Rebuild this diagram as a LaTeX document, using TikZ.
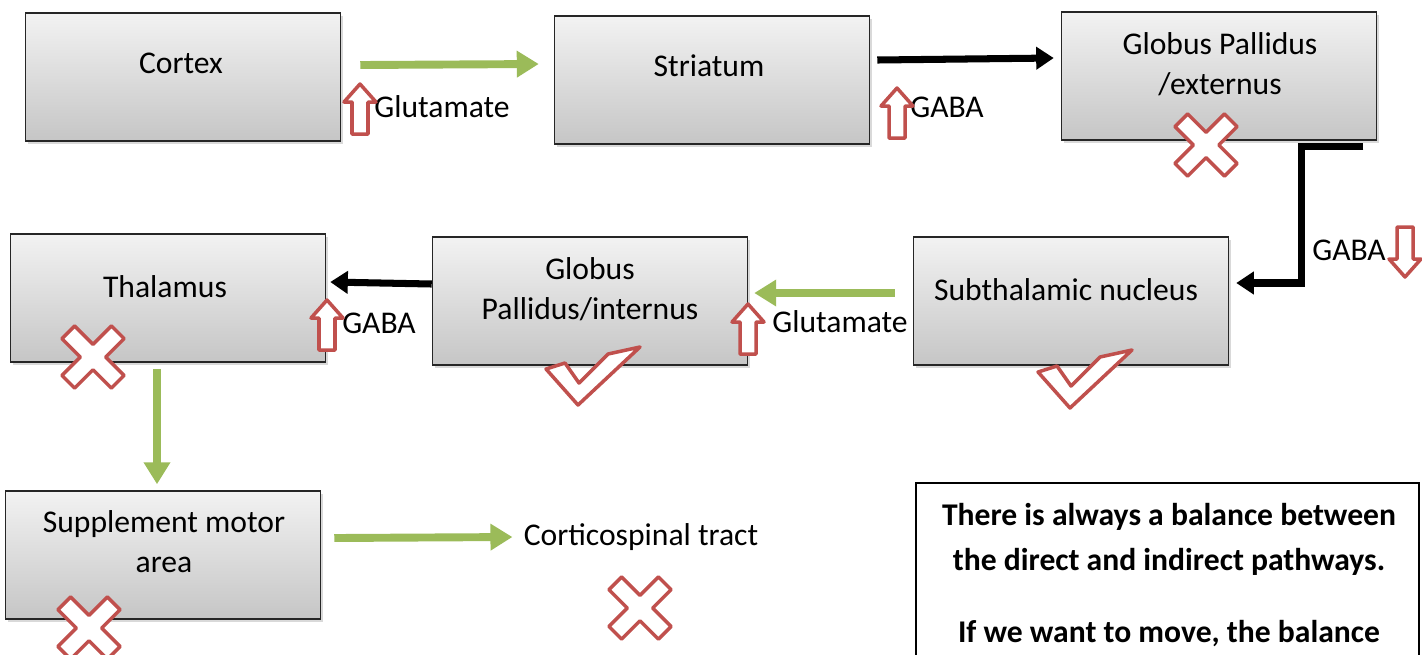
\documentclass[tikz,border=0pt]{standalone}
\usepackage{fontspec}
\setmainfont{Carlito}
\usetikzlibrary{arrows.meta,positioning,shadows}
\definecolor{offgreen}{HTML}{9BBB59}
\definecolor{offred}{HTML}{C0504D}

\begin{document}
\begin{tikzpicture}[
    x=0.02cm, y=-0.02cm,
    box/.style={draw=black!85, line width=0.9pt, top color=gray!10, bottom color=gray!45,
        minimum width=6.3cm, minimum height=2.56cm,
        drop shadow={shadow xshift=1.5pt, shadow yshift=-1.5pt, opacity=0.3}},
    boxtext/.style={align=center, inner sep=0pt, font=\fontsize{18}{22.7}\selectfont},
    lbl/.style={inner sep=0pt, font=\fontsize{18}{22.7}\selectfont},
    glu/.style={draw=offgreen, line width=4.5pt, -{Triangle[length=12.5pt,width=14.5pt]}},
    gaba/.style={draw=black, line width=4pt, -{Triangle[length=10pt,width=12.5pt]}},
    redline/.style={draw=offred, fill=white, line width=2pt, line join=round},
    pics/hollowup/.style={code={
        \draw[redline] (-8,25) -- (-8,-7) -- (-16,-7) -- (0,-25) -- (16,-7) -- (8,-7) -- (8,25) -- cycle;}},
    pics/redcross/.style={code={
        \draw[redline, rotate=45] (9,35) -- (9,9) -- (35,9) -- (35,-9) -- (9,-9) -- (9,-35)
            -- (-9,-35) -- (-9,-9) -- (-35,-9) -- (-35,9) -- (-9,9) -- (-9,35) -- cycle;}},
    pics/redcheck/.style={code={
        \draw[redline] (0,0) -- (-32,-36) -- (-13,-42) -- (1,-22) -- (30,-51) -- (62,-58) -- cycle;}}
]
    \clip (0,0) rectangle (1422,654);

    % boxes
    \node[box] (cortex) at (183,77) {};
    \node[box] (striatum) at (712,80) {};
    \node[box] (gpe) at (1219,76) {};
    \node[box] (stn) at (1071,301) {};
    \node[box] (gpi) at (590,301) {};
    \node[box] (thal) at (168,298) {};
    \node[box] (sma) at (163,555) {};

    \node[boxtext] (cortex-t) at (181,63) {Cortex};
    \node[boxtext] (striatum-t) at (709,66) {Striatum};
    \node[boxtext] (gpe-t) at (1220,64) {Globus Pallidus\\/externus};
    \node[boxtext] (stn-t) at (1066,290) {Subthalamic nucleus};
    \node[boxtext] (gpi-t) at (590,289) {Globus\\Pallidus/internus};
    \node[boxtext] (thal-t) at (165,287) {Thalamus};
    \node[boxtext] (sma-t) at (164,542) {Supplement motor\\area};
    \node[lbl] (tract) at (641,537) {Corticospinal tract};

    % connectors
    \draw[glu] ([shift={(19,-12)}]cortex.east) -- ([shift={(-15,-16)}]striatum.west);
    \draw[gaba] ([shift={(7,-20)}]striatum.east) -- ([shift={(-7,-18)}]gpe.west);
    \draw[gaba] ([shift={(-14,6)}]gpe.south east) -| ([shift={(72,-18)}]stn.east)
        -- ([shift={(7,-18)}]stn.east);
    \draw[glu] ([shift={(-18,-8)}]stn.west) -- ([shift={(6,-8)}]gpi.east);
    \draw[gaba] ([shift={(0,-17)}]gpi.west) -- ([shift={(4,-16)}]thal.east);
    \draw[glu] ([shift={(-11,6)}]thal.south) -- ([shift={(-6,-6)}]sma.north);
    \draw[glu] ([shift={(13,-17)}]sma.east) -- ([shift={(-11,0)}]tract.west);

    % transmitter labels
    \node[lbl] (glu1) at (442,107) {Glutamate};
    \node[lbl] (gaba1) at (947,107) {GABA};
    \node[lbl] (gaba2) at (1349,250) {GABA};
    \node[lbl] (gaba3) at (379,323) {GABA};
    \node[lbl] (glu2) at (840,322) {Glutamate};

    \pic at (360,109) {hollowup};
    \pic at (897,113) {hollowup};
    \pic at (327,325) {hollowup};
    \pic at (748,329) {hollowup};
    \pic[rotate=180] at (1405,252) {hollowup};

    \pic at (1206,145) {redcross};
    \pic at (93,357) {redcross};
    \pic at (89,628) {redcross};
    \pic at (640,608) {redcross};
    \pic at (578,405) {redcheck};
    \pic at (1070,408) {redcheck};

    % note
    \draw[line width=0.8pt] (916,700) |- (1419,483) -- (1419,700);
    \node[align=center, anchor=north, inner sep=0pt, font=\bfseries\fontsize{18}{25.5}\selectfont]
        (note) at (1169,503) {There is always a balance between\\the direct and indirect pathways.\\[0.55cm]If we want to move, the balance};
\end{tikzpicture}
\end{document}
